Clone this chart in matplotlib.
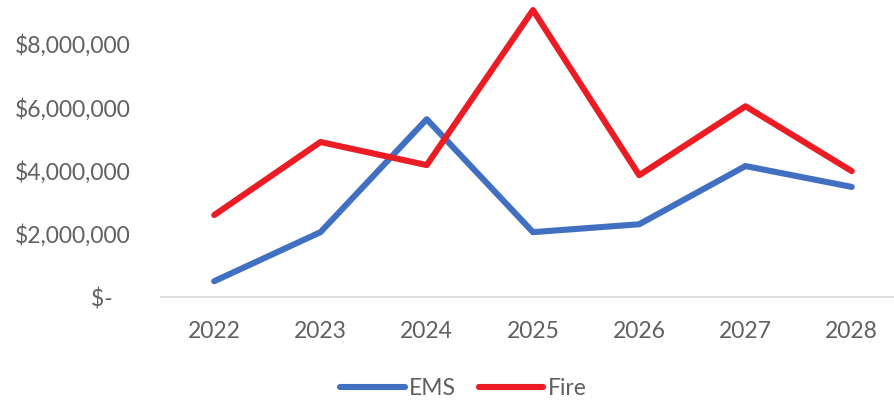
import matplotlib
matplotlib.use("Agg")
import matplotlib.pyplot as plt
from matplotlib.ticker import FuncFormatter

# values
years = ["2022", "2023", "2024", "2025", "2026", "2027", "2028"]
ems = [500000, 2050000, 5620000, 2050000, 2300000, 4140000, 3480000]
fire = [2590000, 4900000, 4170000, 9070000, 3850000, 6030000, 3980000]
yticks = [0, 2000000, 4000000, 6000000, 8000000]

plt.rcParams['font.family'] = ['Lato', 'DejaVu Sans']
GREY = '#606060'

fig = plt.figure(figsize=(8.95, 4.03), dpi=100)
# axes is allowed to run past the figure edge: the reference is cropped
ax = fig.add_axes([0.180, 0.263, 0.831, 0.785])

x = range(len(years))
ax.plot(x, ems, color='#4170C2', lw=4.4, solid_capstyle='round',
        solid_joinstyle='round', label='EMS')
ax.plot(x, fire, color='#EC1C24', lw=4.4, solid_capstyle='round',
        solid_joinstyle='round', label='Fire')

ax.set_xlim(-0.5, len(years) - 0.5)
ax.set_ylim(0, 10000000)
ax.set_xticks(list(x))
ax.set_xticklabels(years)
ax.set_yticks(yticks)


def money(v, pos):
    if v == 0:
        return '$-   '
    return '${:,.0f}'.format(v)


ax.yaxis.set_major_formatter(FuncFormatter(money))
ax.tick_params(axis='both', length=0, labelsize=16.5, labelcolor=GREY)
ax.tick_params(axis='y', pad=22)
ax.tick_params(axis='x', pad=17)

for side in ['top', 'right', 'left']:
    ax.spines[side].set_visible(False)
ax.spines['bottom'].set_color('#D9D9D9')
ax.spines['bottom'].set_linewidth(1.2)

leg = fig.legend(loc='center', bbox_to_anchor=(0.518, 0.037), ncol=2,
                 frameon=False, fontsize=16.5, handlelength=2.8,
                 handletextpad=0.2, columnspacing=1.0)
for t in leg.get_texts():
    t.set_color(GREY)

fig.savefig('out.png', dpi=100)
